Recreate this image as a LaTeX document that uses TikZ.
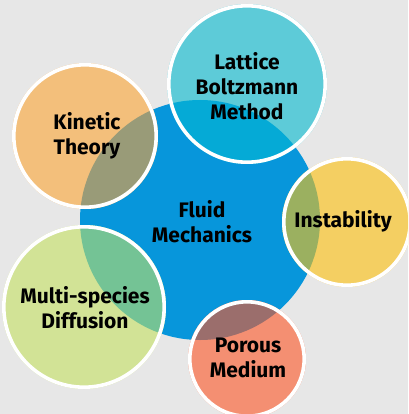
\documentclass[tikz,border=0pt]{standalone}
\usepackage{fontspec}
\setmainfont{Fira Sans}
\definecolor{bg}{HTML}{E7E7E7}
\definecolor{core}{HTML}{0796DB}
\definecolor{lbm}{HTML}{5DCBD8}
\definecolor{lbmx}{HTML}{05AAD6}
\definecolor{kin}{HTML}{F3BF7B}
\definecolor{kinx}{HTML}{999B78}
\definecolor{ins}{HTML}{F4CF62}
\definecolor{insx}{HTML}{9BB060}
\definecolor{msd}{HTML}{D2E396}
\definecolor{msdx}{HTML}{74C395}
\definecolor{por}{HTML}{F48F72}
\definecolor{porx}{HTML}{9B6E6C}
\tikzset{
  lbl/.style={align=center, text=black, inner sep=0pt, font=\bfseries\fontsize{21}{25}\selectfont},
}
% satellite circle: name, centre, radius, fill, overlap fill
\newcommand{\satellite}[5]{%
  \fill[#4] (#2) circle[radius=#3pt];
  \begin{scope}
    \clip (#2) circle[radius=#3pt];
    \fill[#5] (core) circle[radius=120pt];
  \end{scope}
  \draw[white, line width=3.6pt] (#2) circle[radius=#3pt-1.8pt];
}
\begin{document}
\begin{tikzpicture}[x=1pt,y=-1pt]
  \fill[bg] (0,0) rectangle (408,414);
  \useasboundingbox (0,0) rectangle (408,414);
  \clip (0,0) rectangle (408,414);

  \coordinate (core) at (200,220);
  \coordinate (lbmc) at (247,84);
  \coordinate (kinc) at (85,136);
  \coordinate (insc) at (347,222);
  \coordinate (msdc) at (84,307);
  \coordinate (porc) at (247,359);

  \fill[core] (core) circle[radius=120pt];

  \satellite{lbm}{lbmc}{80}{lbm}{lbmx}
  \satellite{kin}{kinc}{73}{kin}{kinx}
  \satellite{ins}{insc}{65}{ins}{insx}
  \satellite{msd}{msdc}{82}{msd}{msdx}
  \satellite{por}{porc}{59}{por}{porx}

  \node[lbl] (fluid) at (202,222) {Fluid\\Mechanics};
  \node[lbl] (lattice) at (247,86) {Lattice\\Boltzmann\\Method};
  \node[lbl] (kinetic) at (87,136) {Kinetic\\Theory};
  \node[lbl] (instab) at (343,221) {Instability};
  \node[lbl] (multi) at (85,308) {Multi-species\\Diffusion};
  \node[lbl] (porous) at (248,358) {Porous\\Medium};
\end{tikzpicture}
\end{document}
